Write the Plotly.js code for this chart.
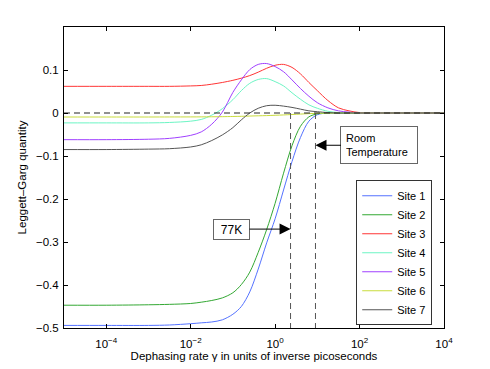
<!DOCTYPE html>
<html><head><meta charset="utf-8">
<script src="https://cdn.plot.ly/plotly-3.0.1.min.js"></script>
<style>html,body{margin:0;padding:0;background:#fff}#chart{width:490px;height:369px}</style>
</head><body><div id="chart"></div>
<script>
// x grid: log10 of dephasing rate (inverse picoseconds)
const logGamma = [-5, -4, -3, -2.5, -2, -1.75, -1.5, -1.25, -1, -0.8, -0.6, -0.4, -0.2, 0, 0.2, 0.4, 0.6, 0.8, 1, 1.25, 1.5, 1.75, 2, 2.5, 3, 4];

const site1 = [-0.494, -0.494, -0.494, -0.493, -0.490, -0.488, -0.486, -0.481, -0.468, -0.450, -0.416, -0.363, -0.302, -0.246, -0.179, -0.113, -0.057, -0.019, -0.004, 0, 0, 0, 0, 0, 0, 0];
const site2 = [-0.447, -0.447, -0.446, -0.445, -0.443, -0.440, -0.436, -0.430, -0.418, -0.399, -0.370, -0.324, -0.271, -0.210, -0.140, -0.076, -0.031, -0.009, -0.002, 0, 0, 0, 0, 0, 0, 0];
const site3 = [0.062, 0.062, 0.062, 0.062, 0.063, 0.064, 0.067, 0.071, 0.076, 0.081, 0.087, 0.095, 0.104, 0.111, 0.113, 0.106, 0.091, 0.071, 0.052, 0.029, 0.012, 0.005, 0.001, 0, 0, 0];
const site4 = [-0.023, -0.023, -0.023, -0.022, -0.019, -0.015, -0.005, 0.010, 0.031, 0.052, 0.069, 0.078, 0.080, 0.073, 0.063, 0.047, 0.032, 0.019, 0.011, 0.004, 0.001, 0, 0, 0, 0, 0];
const site5 = [-0.062, -0.062, -0.061, -0.059, -0.052, -0.044, -0.026, 0.002, 0.048, 0.077, 0.101, 0.113, 0.115, 0.108, 0.096, 0.077, 0.057, 0.039, 0.024, 0.012, 0.005, 0.002, 0, 0, 0, 0];
const site6 = [-0.0093, -0.0093, -0.0093, -0.0092, -0.0091, -0.009, -0.0088, -0.0085, -0.0081, -0.0077, -0.0071, -0.0065, -0.006, -0.0053, -0.0045, -0.0035, -0.0025, -0.0015, -0.0008, -0.0003, 0, 0, 0, 0, 0, 0];
const site7 = [-0.085, -0.085, -0.084, -0.083, -0.079, -0.074, -0.064, -0.051, -0.034, -0.016, 0.000, 0.011, 0.017, 0.018, 0.016, 0.013, 0.009, 0.005, 0.003, 0.001, 0, 0, 0, 0, 0, 0];

const siteNames = ['Site 1', 'Site 2', 'Site 3', 'Site 4', 'Site 5', 'Site 6', 'Site 7'];
const siteColors = ['#5472ff', '#33a833', '#ff3535', '#6cf5c4', '#a040ff', '#c9dc3c', '#555555'];

// reference lines / markers
const xRange = [1e-5, 1e4];
const zeroLevel = 0;
const yBottom = -0.5;
const gamma77K = 2.32;
const gammaRoom = 9.04;
const arrow77KY = -0.27;
const arrowRoomY = -0.075;

const xTickVals = [1e-4, 1e-2, 1, 1e2, 1e4];
const xTickText = ['10<sup>−4</sup>', '10<sup>−2</sup>', '10<sup>0</sup>', '10<sup>2</sup>', '10<sup>4</sup>'];
const yTickVals = [-0.5, -0.4, -0.3, -0.2, -0.1, 0, 0.1];
const yTickText = ['−0.5', '−0.4', '−0.3', '−0.2', '−0.1', '0', '0.1'];

const gamma = logGamma.map(v => Math.pow(10, v));
const series = [site1, site2, site3, site4, site5, site6, site7];

const traces = series.map((s, i) => ({
  x: gamma, y: s, type: 'scatter', mode: 'lines', name: siteNames[i],
  line: {color: siteColors[i], width: 1, shape: 'spline', smoothing: 0.9}
}));

traces.push({x: xRange, y: [zeroLevel, zeroLevel], mode: 'lines', showlegend: false, line: {color: '#222', width: 1, dash: '6px,4px'}});
traces.push({x: [gamma77K, gamma77K], y: [zeroLevel, yBottom], mode: 'lines', showlegend: false, line: {color: '#555', width: 1, dash: '6px,4px'}});
traces.push({x: [gammaRoom, gammaRoom], y: [zeroLevel, yBottom], mode: 'lines', showlegend: false, line: {color: '#555', width: 1, dash: '6px,4px'}});

const font = {family: 'Liberation Sans, Arial, sans-serif', size: 11.5, color: '#000'};
const smallFont = {family: 'Liberation Sans, Arial, sans-serif', size: 11, color: '#000'};

const layout = {
  width: 490, height: 369,
  margin: {l: 64, r: 46, t: 27, b: 41, pad: 0},
  paper_bgcolor: '#fff', plot_bgcolor: '#fff',
  font: font,
  showlegend: true,
  legend: {
    x: 0.969, xanchor: 'right', y: 0.25, yanchor: 'middle',
    bgcolor: '#fff', bordercolor: '#333', borderwidth: 1,
    font: smallFont
  },
  xaxis: {
    type: 'log', range: [Math.log10(xRange[0]), Math.log10(xRange[1])],
    tickmode: 'array', tickvals: xTickVals, ticktext: xTickText,
    ticks: 'inside', ticklen: 4, tickcolor: '#000', tickwidth: 1, ticklabelstandoff: 5,
    showline: true, linecolor: '#000', linewidth: 1, mirror: 'ticks',
    showgrid: false, zeroline: false,
    title: {text: 'Dephasing rate γ in units of inverse picoseconds', font: font, standoff: 3}
  },
  yaxis: {
    range: [-0.5, 0.2], automargin: true,
    tickmode: 'array', tickvals: yTickVals, ticktext: yTickText,
    ticks: 'inside', ticklen: 4, tickcolor: '#000', tickwidth: 1, ticklabelstandoff: 2,
    showline: true, linecolor: '#000', linewidth: 1, mirror: 'ticks',
    showgrid: false, zeroline: false,
    title: {text: 'Leggett–Garg quantity', font: font, standoff: 6}
  },
  annotations: [
    {
      x: Math.log10(gamma77K), y: arrow77KY, xref: 'x', yref: 'y',
      text: '77K', font: {family: font.family, size: 12, color: '#000'},
      showarrow: true, arrowhead: 2, arrowsize: 2.2, arrowwidth: 1, arrowcolor: '#000',
      ax: -59, ay: 0, bgcolor: '#fff', bordercolor: '#666', borderwidth: 1,
      borderpad: 0, width: 35, height: 19
    },
    {
      x: Math.log10(gammaRoom), y: arrowRoomY, xref: 'x', yref: 'y',
      text: 'Room<br>Temperature', align: 'left', font: smallFont,
      showarrow: true, arrowhead: 2, arrowsize: 2.2, arrowwidth: 1, arrowcolor: '#000',
      ax: 64, ay: 0, bgcolor: '#fff', bordercolor: '#666', borderwidth: 1,
      borderpad: 5, width: 66, height: 26
    }
  ]
};

Plotly.newPlot('chart', traces, layout, {staticPlot: true, displayModeBar: false});
</script>
</body></html>
